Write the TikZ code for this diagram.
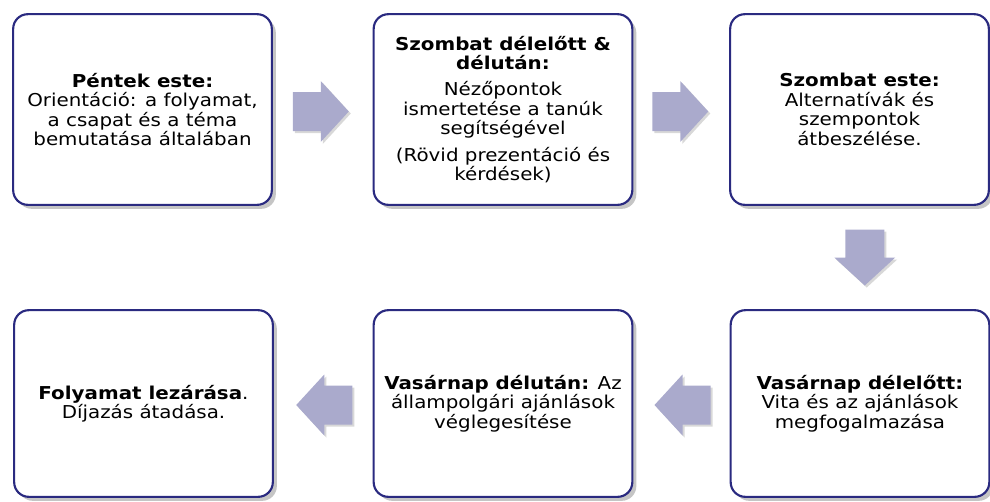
\documentclass[tikz,border=0pt]{standalone}
\usepackage{fontspec}
\setmainfont[FakeStretch=1.12]{DejaVu Sans}
\usetikzlibrary{shadows,calc}
\definecolor{navy}{HTML}{2A2A80}
\definecolor{arrowfill}{HTML}{AAAACC}
\tikzset{
  stepbox/.style={draw=navy, line width=1.6pt, rounded corners=11pt, fill=white,
    align=center, inner sep=4pt,
    font=\fontsize{13.3}{14.6}\selectfont,
    drop shadow={shadow xshift=3pt, shadow yshift=-3pt, fill=black!45}},
  topbox/.style={stepbox, minimum width=194pt, minimum height=143pt},
  botbox/.style={stepbox, minimum width=194pt, minimum height=140pt},
  blockarrow/.style={fill=arrowfill, drop shadow={shadow xshift=1.5pt, shadow yshift=-1.5pt, fill=black!30}}
}
\newcommand\blockarr[2]{%
  \begin{scope}[shift={(#1)}, rotate=#2]
    \path[blockarrow] (-28,-19.5) -- (0,-19.5) -- (0,-30.5) -- (28,0) -- (0,30.5) -- (0,19.5) -- (-28,19.5) -- cycle;
  \end{scope}}
\begin{document}
\begin{tikzpicture}[x=0.75pt, y=-0.75pt]
\useasboundingbox (0,0) rectangle (990,501);
\node[topbox] (b1) at (142.5,109.5) {\textbf{Péntek este:}\\Orientáció: a folyamat,\\a csapat és a téma\\bemutatása általában};
\node[topbox] (b2) at (503,109.5) {\textbf{Szombat délelőtt \&}\\\textbf{délután:}\\[5pt]Nézőpontok\\ismertetése a tanúk\\segítségével\\[5pt](Rövid prezentáció és\\kérdések)};
\node[topbox] (b3) at (859.5,109.5) {\textbf{Szombat este:}\\Alternatívák és\\szempontok\\átbeszélése.};
\node[botbox] (b4) at (143.5,403.5) {\textbf{Folyamat lezárása}.\\Díjazás átadása.};
\node[botbox] (b5) at (503,403.5) {\textbf{Vasárnap délután:} Az\\állampolgári ajánlások\\véglegesítése};
\node[botbox] (b6) at (860,403.5) {\textbf{Vasárnap délelőtt:}\\Vita és az ajánlások\\megfogalmazása};
\coordinate (a1) at ($(b1.east)!0.5!(b2.west)+(-2,2)$);
\coordinate (a2) at ($(b2.east)!0.5!(b3.west)+(-1,2)$);
\coordinate (a3) at ($(b3.south)!0.5!(b6.north)+(5,0)$);
\coordinate (a4) at ($(b6.west)!0.5!(b5.east)+(1,1.5)$);
\coordinate (a5) at ($(b5.west)!0.5!(b4.east)+(1,1.5)$);
\blockarr{a1}{0}
\blockarr{a2}{0}
\blockarr{a3}{-90}
\blockarr{a4}{180}
\blockarr{a5}{180}
\end{tikzpicture}
\end{document}
